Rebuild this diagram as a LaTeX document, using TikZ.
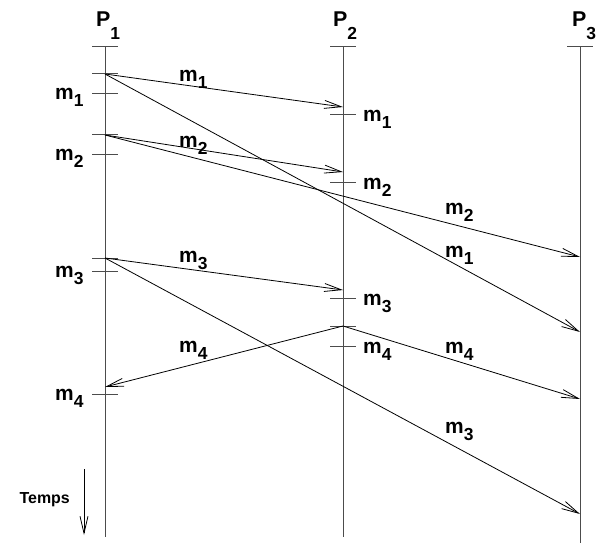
\documentclass[tikz,border=0pt]{standalone}
\usepackage{fontspec}
\setmainfont{Liberation Sans}
\usetikzlibrary{arrows.meta}
\newcommand{\mlab}[2]{\fontsize{21}{21}\selectfont\bfseries #1\raisebox{-7bp}{\fontsize{17.5}{17.5}\selectfont #2}}
\newcommand{\plab}[2]{\fontsize{21.5}{21.5}\selectfont\bfseries #1\raisebox{-13bp}{\fontsize{17.5}{17.5}\selectfont #2}}
\begin{document}
\begin{tikzpicture}[x=1bp,y=-1bp,
  proc/.style={line width=1bp, draw=black!70},
  tickmark/.style={line width=1bp, draw=black!70},
  msg/.style={line width=0.8bp, draw=black, -{Straight Barb[length=17bp,width=8bp,line width=0.8bp]}},
  lbl/.style={inner sep=0pt, anchor=base west}]
\useasboundingbox (0,0) rectangle (598,543);
% process heads
\node[lbl] (P1) at (96,27) {\plab{P}{1}};
\node[lbl] (P2) at (333,27) {\plab{P}{2}};
\node[lbl] (P3) at (572,27) {\plab{P}{3}};
\coordinate (a1) at (105,47); \coordinate (b1) at (105,537);
\coordinate (a2) at (343,47); \coordinate (b2) at (343,537);
\coordinate (a3) at (580,47); \coordinate (b3) at (580,543);
\draw[proc] (a1) -- (b1);
\draw[proc] (a2) -- (b2);
\draw[proc] (a3) -- (b3);
% events
\coordinate (s1) at (105,74);
\coordinate (s2) at (105,135);
\coordinate (s3) at (105,258);
\coordinate (r4a) at (105,387);
\coordinate (d1a) at (105,94);
\coordinate (d2a) at (105,155);
\coordinate (d3a) at (105,271);
\coordinate (d4a) at (105,394);
\coordinate (r1b) at (343,107);
\coordinate (r2b) at (343,172);
\coordinate (r3b) at (343,290);
\coordinate (s4) at (343,326);
\coordinate (d1b) at (343,115);
\coordinate (d2b) at (343,183);
\coordinate (d3b) at (343,298);
\coordinate (d4b) at (343,346);
\coordinate (r2c) at (580,257);
\coordinate (r1c) at (580,332);
\coordinate (r4c) at (580,399);
\coordinate (r3c) at (580,514);
% ticks
\foreach \t in {a1,a2,a3,s1,s2,s3,d1a,d2a,d3a,d4a,s4,d1b,d2b,d3b,d4b}
  \draw[tickmark] ([xshift=-13bp]\t) -- ([xshift=13bp]\t);
% messages
\draw[msg] (s1) -- (r1b);
\draw[msg] (s1) -- (r1c);
\draw[msg] (s2) -- (r2b);
\draw[msg] (s2) -- (r2c);
\draw[msg] (s3) -- (r3b);
\draw[msg] (s3) -- (r3c);
\draw[msg] (s4) -- (r4a);
\draw[msg] (s4) -- (r4c);
% message labels
\node[lbl] (l1a) at (179,82) {\mlab{m}{1}};
\node[lbl] (l1b) at (445,257) {\mlab{m}{1}};
\node[lbl] (l2a) at (179,148) {\mlab{m}{2}};
\node[lbl] (l2b) at (445,215) {\mlab{m}{2}};
\node[lbl] (l3a) at (179,262) {\mlab{m}{3}};
\node[lbl] (l3b) at (445,433) {\mlab{m}{3}};
\node[lbl] (l4a) at (179,352) {\mlab{m}{4}};
\node[lbl] (l4b) at (445,353) {\mlab{m}{4}};
% delivery labels P1
\node[lbl] (e1a) at (55,100) {\mlab{m}{1}};
\node[lbl] (e2a) at (55,161) {\mlab{m}{2}};
\node[lbl] (e3a) at (55,277) {\mlab{m}{3}};
\node[lbl] (e4a) at (55,400) {\mlab{m}{4}};
% delivery labels P2
\node[lbl] (e1b) at (363,122) {\mlab{m}{1}};
\node[lbl] (e2b) at (363,190) {\mlab{m}{2}};
\node[lbl] (e3b) at (363,305) {\mlab{m}{3}};
\node[lbl] (e4b) at (363,353) {\mlab{m}{4}};
% time arrow
\node[inner sep=0pt, anchor=base east] (temps) at (70,503) {\fontsize{16}{16}\selectfont\bfseries Temps};
\coordinate (t0) at (84,469);
\coordinate (t1) at (84,535);
\draw[msg] (t0) -- (t1);
\end{tikzpicture}
\end{document}
